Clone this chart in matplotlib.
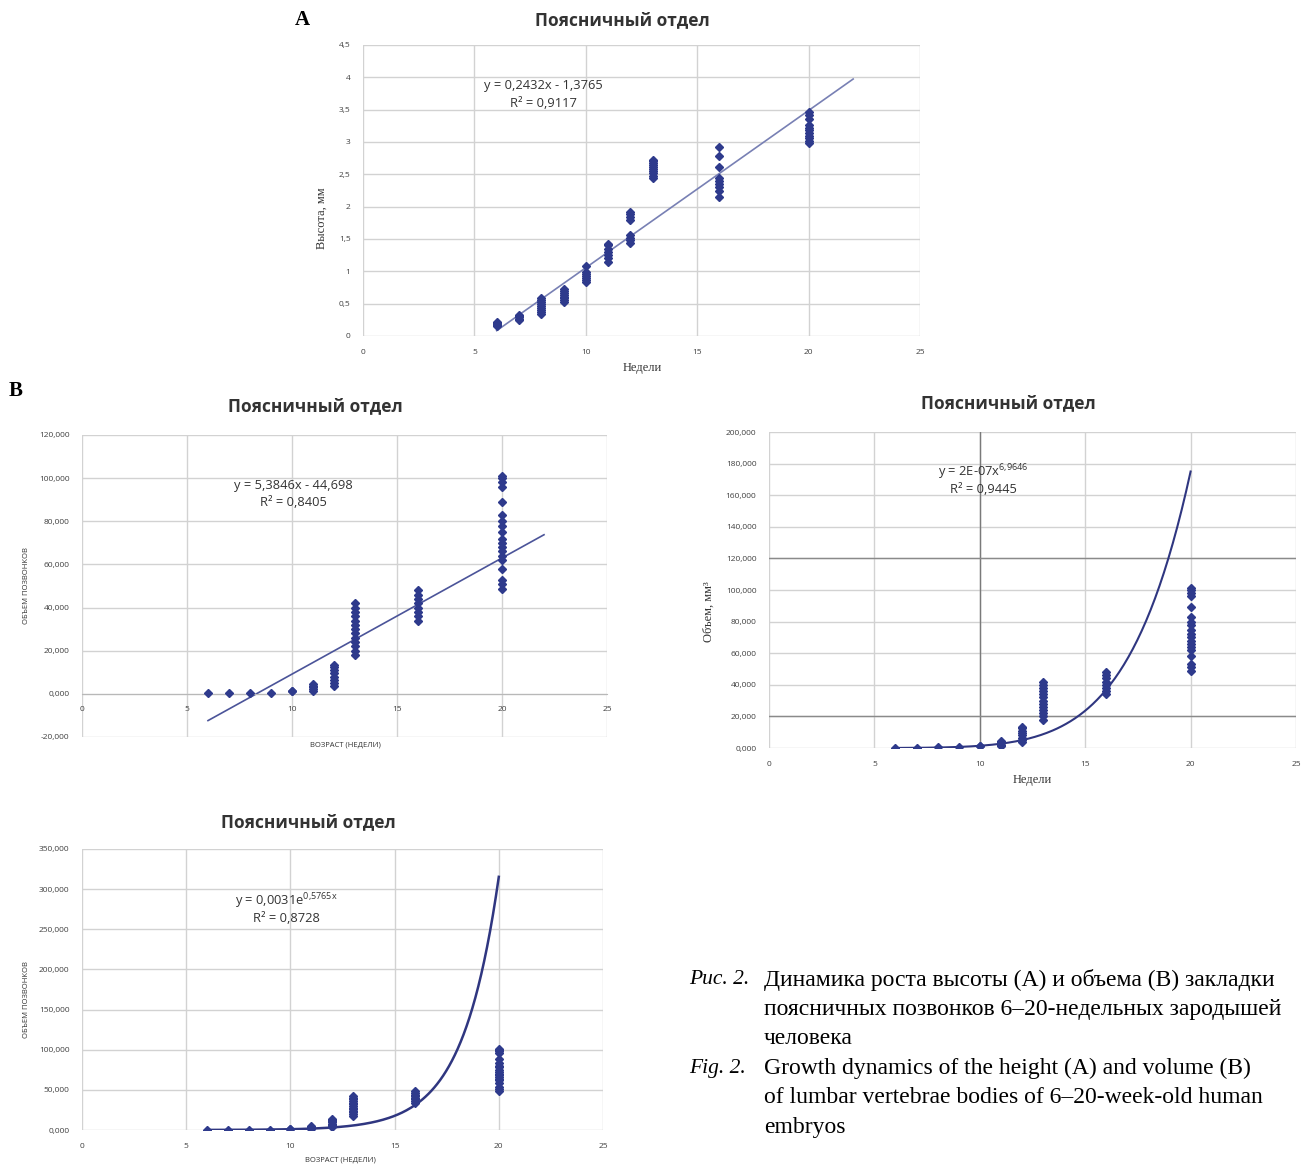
import numpy as np
import matplotlib
matplotlib.use("Agg")
import matplotlib.pyplot as plt

plt.rcParams['font.family'] = ['Open Sans', 'DejaVu Sans']

W, H = 1312, 1166

# --- data ---
weeks = [6, 7, 8, 9, 10, 11, 12, 13, 16, 20]

# heights, mm (panel A)
height = {
    6: [0.15, 0.17, 0.19, 0.20, 0.22],
    7: [0.25, 0.27, 0.29, 0.31, 0.32],
    8: [0.34, 0.37, 0.40, 0.43, 0.46, 0.49, 0.52, 0.55, 0.58],
    9: [0.52, 0.55, 0.58, 0.61, 0.64, 0.67, 0.70, 0.72],
    10: [0.84, 0.87, 0.90, 0.93, 0.96, 0.99, 1.09],
    11: [1.15, 1.20, 1.25, 1.30, 1.35, 1.40, 1.43],
    12: [1.44, 1.48, 1.52, 1.56, 1.80, 1.84, 1.88, 1.92],
    13: [2.45, 2.48, 2.52, 2.55, 2.58, 2.61, 2.64, 2.67, 2.70, 2.72],
    16: [2.15, 2.25, 2.30, 2.35, 2.40, 2.45, 2.62, 2.78, 2.92],
    20: [2.98, 3.02, 3.06, 3.10, 3.14, 3.18, 3.22, 3.26, 3.35, 3.42, 3.46],
}

# volumes (panels B)
volume = {
    6: [0.2],
    7: [0.3],
    8: [0.5],
    9: [0.6],
    10: [1.2, 1.5],
    11: [1.5, 2.2, 3.0, 3.8, 4.5],
    12: [3.5, 5.0, 6.5, 8.0, 9.5, 11.0, 12.5, 13.5],
    13: [18, 20, 22, 24, 26, 28, 30, 32, 34, 36, 38, 40, 42],
    16: [34, 36, 38, 40, 42, 44, 46, 48],
    20: [48.5, 51, 53, 58, 62, 64, 66, 68, 70, 72, 75, 78, 80, 83, 89, 96, 98, 100, 101],
}

# trendlines as printed on the charts
lin_a = (0.2432, -1.3765)
lin_b = (5.3846, -44.698)
pow_b = (1.52e-7, 6.9646)   # shown as 2E-07 x^6,9646
exp_b = (0.0031, 0.5765)

eq_a = ["y = 0,2432x - 1,3765", "R² = 0,9117"]
eq_lin = ["y = 5,3846x - 44,698", "R² = 0,8405"]
eq_pow = [r"y = 2E-07x$^{\mathregular{6{,}9646}}$", "R² = 0,9445"]
eq_exp = [r"y = 0,0031e$^{\mathregular{0{,}5765x}}$", "R² = 0,8728"]

title = "Поясничный отдел"

caption_ru = ["Динамика роста высоты (А) и объема (В) закладки",
              "поясничных позвонков 6–20-недельных зародышей",
              "человека"]
caption_en = ["Growth dynamics of the height (A) and volume (B)",
              "of lumbar vertebrae bodies of 6–20-week-old human",
              "embryos"]

DOT = '#2E3A8C'
GRID = '#D2D2D2'
TICK = '#404040'
EQ = 9.3
TFS = 12.5


def flat(d):
    xs, ys = [], []
    for w in weeks:
        xs += [w] * len(d[w])
        ys += d[w]
    return np.array(xs), np.array(ys)


def rect(l, t, r, b):
    return [l / W, 1 - b / H, (r - l) / W, (b - t) / H]


def comma(v, nd):
    return f"{v:.{nd}f}".replace('.', ',')


def base_axes(ax, ymin, ymax, ystep, ylabfmt):
    ax.set_xlim(0, 25)
    ax.set_ylim(ymin, ymax)
    ax.set_xticks(range(0, 26, 5))
    yt = np.arange(ymin, ymax + ystep / 2, ystep)
    ax.set_yticks(yt)
    ax.set_yticklabels([ylabfmt(v) for v in yt])
    ax.grid(True, color=GRID, lw=1)
    ax.set_axisbelow(True)
    for s in ax.spines.values():
        s.set_visible(False)
    ax.tick_params(length=0, labelsize=6, colors=TICK, pad=9)


def equation(ax, x, y1, y2, lines):
    ax.text(x, y1, lines[0], ha='center', va='center', fontsize=EQ, color='#333333')
    ax.text(x, y2, lines[1], ha='center', va='center', fontsize=EQ, color='#333333')


fig = plt.figure(figsize=(W / 100, H / 100), dpi=100)

# ---------------- panel A ----------------
ax = fig.add_axes(rect(363, 45, 920, 336))
base_axes(ax, 0, 4.5, 0.5, lambda v: comma(v, 1).replace(',0', '') if v == int(v) else comma(v, 1))
x, y = flat(height)
xl = np.array([6, 22])
ax.plot(xl, lin_a[0] * xl + lin_a[1], color='#7880B4', lw=1.2, zorder=2)
ax.plot(x, y, 'D', ms=4.5, color=DOT, zorder=3)
equation(ax, 8.08, 3.87, 3.59, eq_a)
fig.text(622 / W, 1 - 20 / H, title, ha='center', va='center', fontsize=TFS, weight='bold', color='#333333')
fig.text(302 / W, 1 - 20 / H, "A", ha='center', va='center', fontsize=15, weight='bold', family='Liberation Serif')
fig.text(322 / W, 1 - 218 / H, "Высота, мм", rotation=90, ha='center', va='center', fontsize=9,
         family='Liberation Serif', color='#333333')
fig.text(642 / W, 1 - 368 / H, "Недели", ha='center', va='center', fontsize=9,
         family='Liberation Serif', color='#333333')

# ---------------- panel B, linear ----------------
ax = fig.add_axes(rect(82, 435, 607, 737))
base_axes(ax, -20, 120, 20, lambda v: comma(v, 3))
ax.spines['bottom'].set_visible(True)
ax.spines['bottom'].set_position(('data', 0))
ax.spines['bottom'].set_color('#B8B8B8')
x, y = flat(volume)
ax.plot(xl, lin_b[0] * xl + lin_b[1], color='#4B5499', lw=1.2, zorder=2)
ax.plot(x, y, 'D', ms=4.5, color=DOT, zorder=3)
equation(ax, 10.05, 96.4, 88.5, eq_lin)
fig.text(315 / W, 1 - 406 / H, title, ha='center', va='center', fontsize=TFS, weight='bold', color='#333333')
fig.text(16 / W, 1 - 391 / H, "B", ha='center', va='center', fontsize=15, weight='bold', family='Liberation Serif')
fig.text(27 / W, 1 - 586 / H, "ОБЪЕМ ПОЗВОНКОВ", rotation=90, ha='center', va='center', fontsize=5.5,
         color='#333333')
fig.text(345 / W, 1 - 745 / H, "ВОЗРАСТ (НЕДЕЛИ)", ha='center', va='center', fontsize=5.5, color='#333333')

# ---------------- panel B, power ----------------
ax = fig.add_axes(rect(769, 432, 1296, 748))
base_axes(ax, 0, 200, 20, lambda v: comma(v, 3))
ax.axvline(10, color='#7A7A7A', lw=1, zorder=1)
ax.axhline(120, color='#8A8A8A', lw=1, zorder=1)
ax.axhline(20, color='#8A8A8A', lw=1, zorder=1)
xc = np.linspace(6, 20, 200)
ax.plot(xc, pow_b[0] * xc ** pow_b[1], color='#2F3680', lw=1.5, zorder=2)
ax.plot(x, y, 'D', ms=4.5, color=DOT, zorder=3)
equation(ax, 10.15, 174.7, 163.9, eq_pow)
fig.text(1008 / W, 1 - 403 / H, title, ha='center', va='center', fontsize=TFS, weight='bold', color='#333333')
fig.text(709 / W, 1 - 612 / H, "Объем, мм³", rotation=90, ha='center', va='center', fontsize=9,
         family='Liberation Serif', color='#333333')
fig.text(1032 / W, 1 - 780 / H, "Недели", ha='center', va='center', fontsize=9,
         family='Liberation Serif', color='#333333')

# ---------------- panel B, exponential ----------------
ax = fig.add_axes(rect(82, 849, 603, 1130))
base_axes(ax, 0, 350, 50, lambda v: comma(v, 3))
ax.plot(xc, exp_b[0] * np.exp(exp_b[1] * xc), color='#2F3680', lw=1.8, zorder=2)
ax.plot(x, y, 'D', ms=4.5, color=DOT, zorder=3)
equation(ax, 9.79, 285, 264, eq_exp)
fig.text(308 / W, 1 - 822 / H, title, ha='center', va='center', fontsize=TFS, weight='bold', color='#333333')
fig.text(27 / W, 1 - 1000 / H, "ОБЪЕМ ПОЗВОНКОВ", rotation=90, ha='center', va='center', fontsize=5.5,
         color='#333333')
fig.text(340 / W, 1 - 1160 / H, "ВОЗРАСТ (НЕДЕЛИ)", ha='center', va='center', fontsize=5.5, color='#333333')

# ---------------- caption ----------------
serif = 'Liberation Serif'
CFS = 17
fig.text(689 / W, 1 - 980 / H, "Рис. 2.", ha='left', va='center', fontsize=15.5, style='italic', family=serif)
for i, line in enumerate(caption_ru):
    fig.text(764 / W, 1 - (980 + 29.5 * i) / H, line, ha='left', va='center', fontsize=CFS, family=serif)
fig.text(689 / W, 1 - 1068 / H, "Fig. 2.", ha='left', va='center', fontsize=15.5, style='italic', family=serif)
for i, line in enumerate(caption_en):
    fig.text(764 / W, 1 - (1068 + 29.5 * i) / H, line, ha='left', va='center', fontsize=CFS, family=serif)

fig.savefig("out.png", dpi=100)
